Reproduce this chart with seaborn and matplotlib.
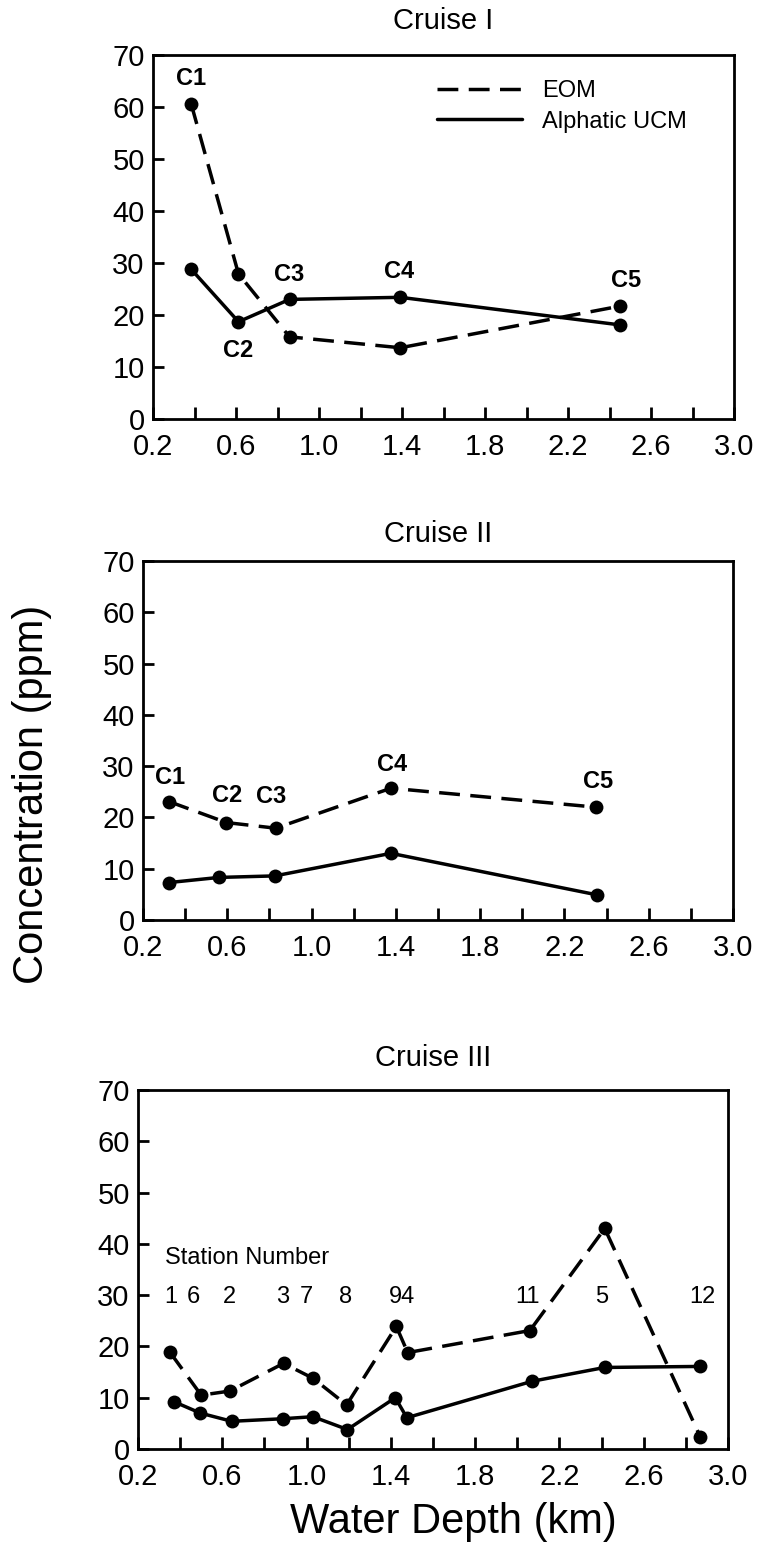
import numpy as np
import pandas as pd
import matplotlib
matplotlib.use("Agg")
import matplotlib.pyplot as plt
import seaborn as sns
from matplotlib.lines import Line2D
from matplotlib.ticker import FixedLocator

# ---------------- data ----------------
c1_depth = [0.384, 0.612, 0.858, 1.392, 2.45]
c1_eom = [60.6, 27.9, 15.8, 13.7, 21.7]
c1_ucm = [28.8, 18.7, 23.0, 23.4, 18.1]
c1_labels = ["C1", "C2", "C3", "C4", "C5"]
c1_label_pos = [(0.384, 65.5), (0.612, 13.2), (0.858, 27.7), (1.385, 28.4), (2.48, 26.6)]

c2_depth_eom = [0.323, 0.596, 0.83, 1.377, 2.35]
c2_eom = [23.1, 19.0, 17.9, 25.7, 22.0]
c2_depth_ucm = [0.323, 0.56, 0.826, 1.377, 2.355]
c2_ucm = [7.3, 8.3, 8.6, 13.0, 4.9]
c2_labels = ["C1", "C2", "C3", "C4", "C5"]
c2_label_pos = [(0.33, 27.7), (0.60, 24.2), (0.81, 24.1), (1.38, 30.3), (2.36, 27.0)]

c3_stations = ["1", "6", "2", "3", "7", "8", "9", "4", "11", "5", "12"]
c3_depth_eom = [0.351, 0.50, 0.636, 0.891, 1.03, 1.19, 1.426, 1.48, 2.06, 2.415, 2.868]
c3_eom = [18.9, 10.5, 11.3, 16.7, 13.8, 8.6, 23.9, 18.8, 23.1, 43.0, 2.4]
c3_depth_ucm = [0.372, 0.496, 0.645, 0.887, 1.03, 1.194, 1.421, 1.476, 2.07, 2.415, 2.868]
c3_ucm = [9.2, 7.0, 5.4, 5.9, 6.3, 3.8, 10.0, 6.1, 13.2, 15.9, 16.1]
c3_station_text = ["1", "6", "2", "3", "7", "8", "94", "11", "5", "12"]
c3_station_text_x = [0.357, 0.464, 0.634, 0.887, 1.0, 1.187, 1.453, 2.05, 2.40, 2.88]

x_major = [0.2, 0.6, 1.0, 1.4, 1.8, 2.2, 2.6, 3.0]
x_minor = [0.4, 0.8, 1.2, 1.6, 2.0, 2.4, 2.8]
y_ticks = [0, 10, 20, 30, 40, 50, 60, 70]

# ---------------- style ----------------
sns.set_style("white")
plt.rcParams["font.family"] = ["Liberation Sans", "DejaVu Sans"]
for k in ["text.color", "axes.labelcolor", "xtick.color", "ytick.color",
          "axes.edgecolor"]:
    plt.rcParams[k] = "black"

fig = plt.figure(figsize=(7.63, 15.49), dpi=100)
W, H = 763, 1549

def ax_rect(l, r, t, b):
    return [l / W, 1 - b / H, (r - l) / W, (b - t) / H]

axes = [
    fig.add_axes(ax_rect(153, 734, 55, 419)),
    fig.add_axes(ax_rect(143, 733, 561, 920)),
    fig.add_axes(ax_rect(138, 728, 1090, 1449)),
]

LW = 2.5
MS = 10
DASH = (6, 3)

def draw(ax, xe, ye, xu, yu):
    sns.lineplot(x=xe, y=ye, ax=ax, color="black", lw=LW, marker="o",
                 markersize=MS, markeredgewidth=0, sort=False, estimator=None,
                 dashes=False, linestyle=(0, DASH))
    sns.lineplot(x=xu, y=yu, ax=ax, color="black", lw=LW, marker="o",
                 markersize=MS, markeredgewidth=0, sort=False, estimator=None)

def style(ax, title, pad):
    ax.set_xlim(0.2, 3.0)
    ax.set_ylim(0, 70)
    ax.xaxis.set_major_locator(FixedLocator(x_major))
    ax.xaxis.set_minor_locator(FixedLocator(x_minor))
    ax.set_xticklabels([f"{v:.1f}" for v in x_major])
    ax.yaxis.set_major_locator(FixedLocator(y_ticks))
    ax.set_yticklabels([str(v) for v in y_ticks])
    ax.tick_params(axis="x", which="both", direction="in", length=9, width=2,
                   labelsize=21, pad=10, bottom=True, top=False, colors="black")
    ax.tick_params(axis="y", which="both", direction="in", length=8, width=2,
                   labelsize=21, pad=6, left=True, right=False, colors="black")
    for s in ax.spines.values():
        s.set_visible(True)
        s.set_linewidth(2)
        s.set_color("black")
    ax.set_xlabel("")
    ax.set_ylabel("")
    ax.set_title(title, fontsize=21, pad=pad, color="black")

# Cruise I
ax = axes[0]
draw(ax, c1_depth, c1_eom, c1_depth, c1_ucm)
for t, (x, y) in zip(c1_labels, c1_label_pos):
    ax.text(x, y, t, ha="center", va="center", fontsize=17, fontweight="bold")
handles = [Line2D([], [], color="black", lw=LW, linestyle=(0, DASH)),
           Line2D([], [], color="black", lw=LW)]
ax.legend(handles, ["EOM", "Alphatic UCM"], loc="upper left",
          bbox_to_anchor=(0.489, 0.93), frameon=False, handlelength=3.6,
          fontsize=17, labelspacing=0.35, handletextpad=0.85,
          borderpad=0, borderaxespad=0)
style(ax, "Cruise I", 19)

# Cruise II
ax = axes[1]
draw(ax, c2_depth_eom, c2_eom, c2_depth_ucm, c2_ucm)
for t, (x, y) in zip(c2_labels, c2_label_pos):
    ax.text(x, y, t, ha="center", va="center", fontsize=17, fontweight="bold")
style(ax, "Cruise II", 14)

# Cruise III
ax = axes[2]
draw(ax, c3_depth_eom, c3_eom, c3_depth_ucm, c3_ucm)
for t, x in zip(c3_station_text, c3_station_text_x):
    ax.text(x, 29.7, t, ha="center", va="center", fontsize=17)
ax.text(0.33, 37.2, "Station Number", ha="left", va="center", fontsize=17)
style(ax, "Cruise III", 17)

fig.text(0.042, 0.487, "Concentration (ppm)", rotation=90, ha="center",
         va="center", fontsize=30)
fig.text(453 / W, 1 - 1522 / H, "Water Depth (km)", ha="center", va="center",
         fontsize=30)

fig.savefig("out.png", dpi=100)
